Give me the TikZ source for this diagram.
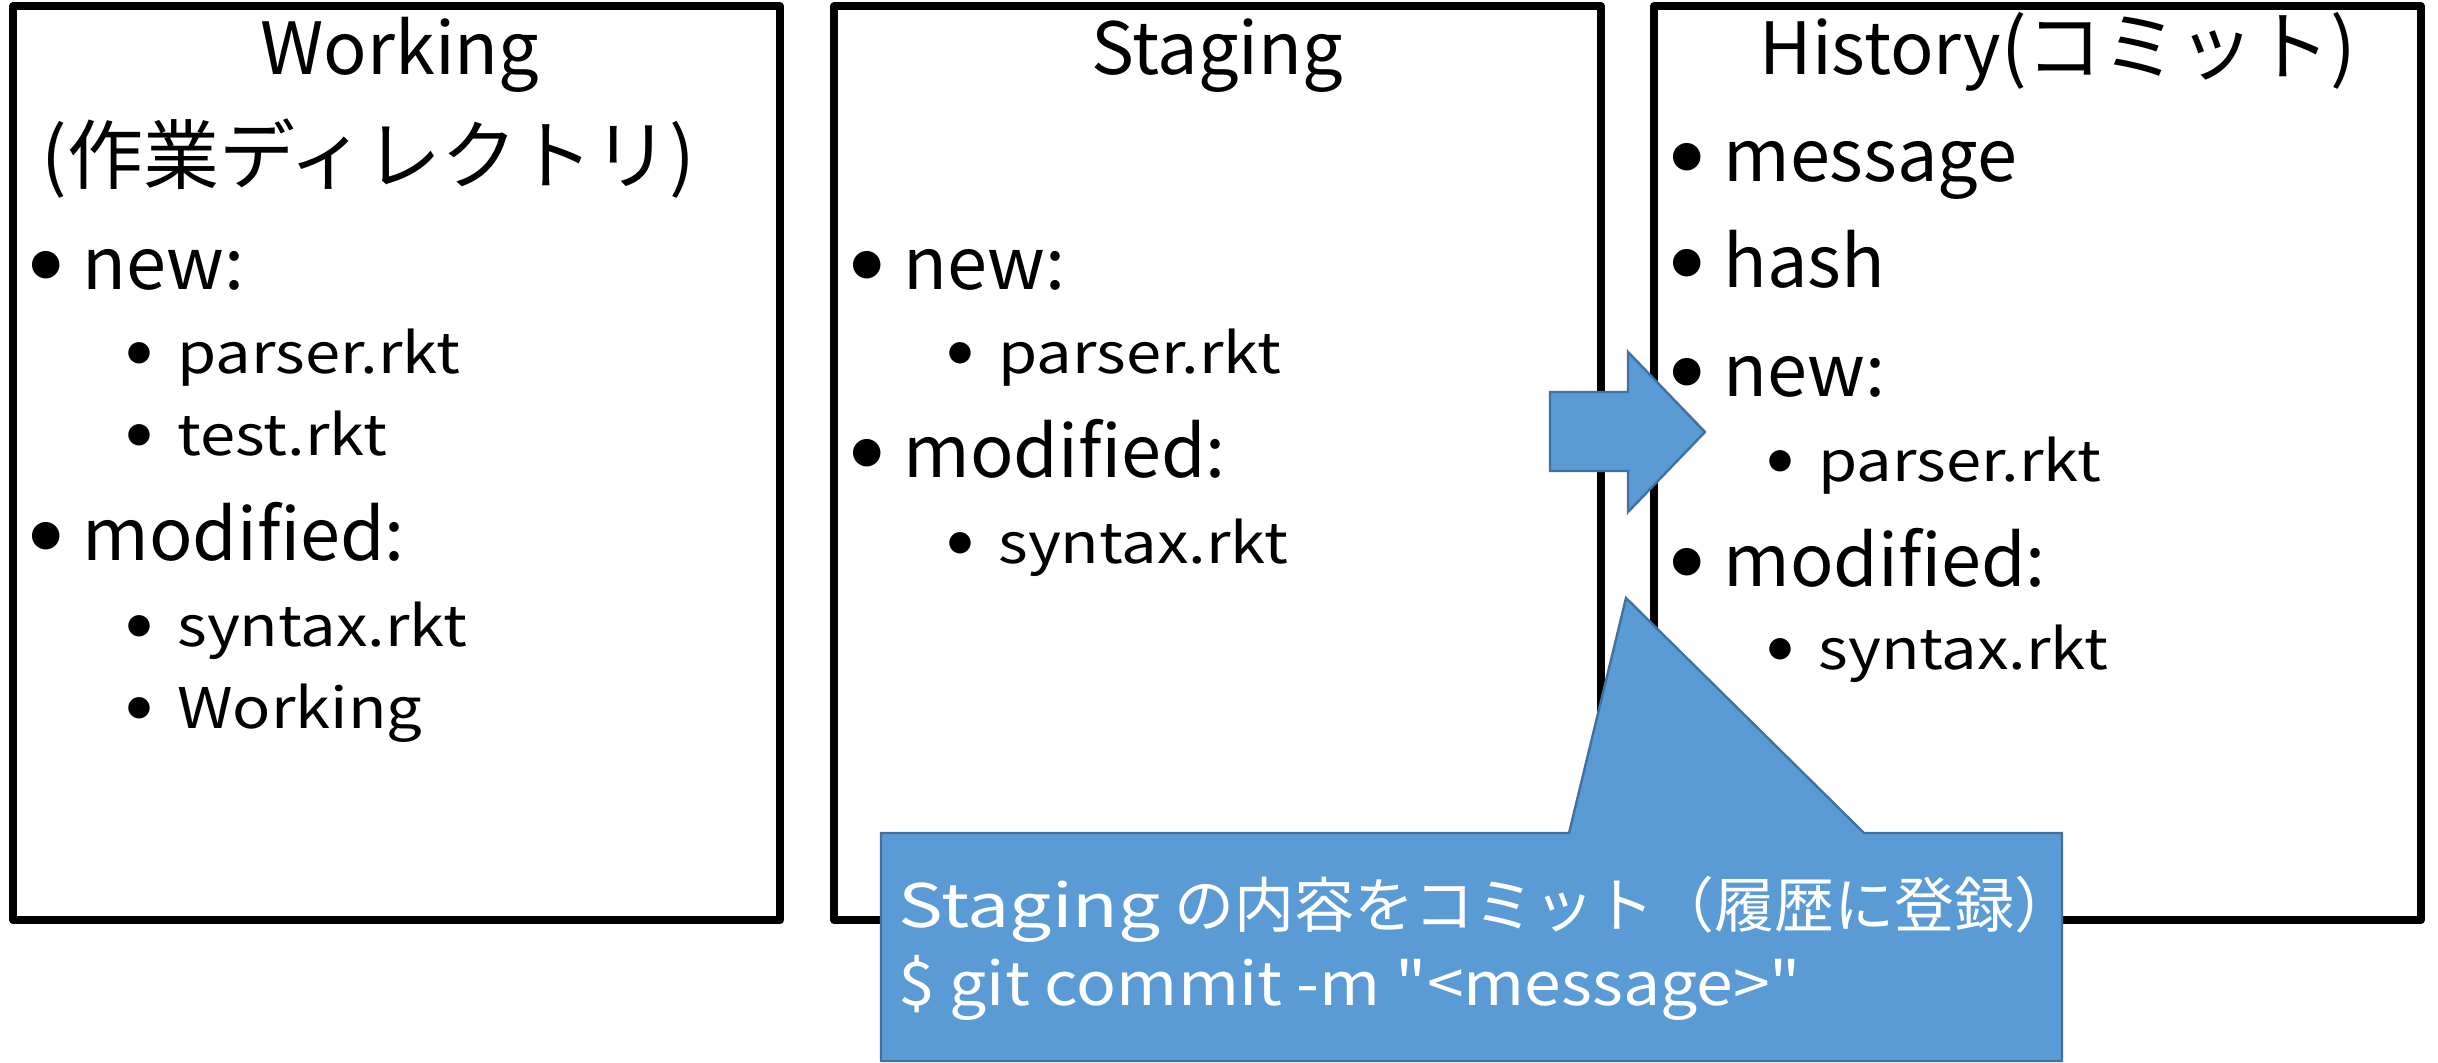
\documentclass[tikz,border=0pt]{standalone}
\usepackage{fontspec}
\setmainfont{Noto Sans CJK JP}
% wider cuts of the same face for the small list entries and the callout
\newfontfamily\subfam{Noto Sans CJK JP}[FakeStretch=1.13]
\newfontfamily\calloutlatin{Noto Sans CJK JP}[FakeStretch=1.1]
\newfontfamily\calloutwide{Noto Sans CJK JP}[FakeStretch=1.25]
% list markers
\newfontfamily\bulletfont{DejaVu Sans}
\newcommand\kanjisize{\fontsize{38}{40}\selectfont}

\definecolor{calloutblue}{RGB}{91,155,213}
\definecolor{calloutedge}{RGB}{65,113,156}

\tikzset{
  panel/.style={draw=black, line width=4pt, line join=round,
    minimum width=383.5pt, minimum height=456.75pt, inner sep=0pt, outer sep=0pt},
  ttl/.style={anchor=base, inner sep=0pt, font=\fontsize{36}{40}\selectfont},
  lone/.style={anchor=base west, inner sep=0pt, font=\fontsize{36}{40}\selectfont},
  ltwo/.style={anchor=base west, inner sep=0pt, font=\subfam\fontsize{28}{30}\selectfont},
  bulone/.style={anchor=center, inner sep=0pt, font=\bulletfont\fontsize{18}{18}\selectfont},
  bultwo/.style={anchor=center, inner sep=0pt, font=\bulletfont\fontsize{14}{14}\selectfont},
  blueshape/.style={fill=calloutblue, draw=calloutedge, line width=1.2pt, line join=miter},
  calltext/.style={anchor=base west, inner sep=0pt, text=white,
    font=\fontsize{30}{32}\selectfont},
}

\begin{document}
\begin{tikzpicture}[x=0.5pt, y=-0.5pt]
\useasboundingbox (0,0) rectangle (2438,1063);

% the three areas
\node[panel] (work)  at (396.5,463.25)  {};
\node[panel] (stage) at (1217.5,463.25) {};
\node[panel] (hist)  at (2037.5,463.25) {};

% Working
\node[ttl]  (workT)  at (400,75) {Working};
\node[lone, font=\kanjisize] (workT2) at (41,184) {(作業ディレクトリ)};
\node[bulone] (wb1) at (46,265) {●};
\node[lone]   (wi1) at (82,290) {new:};
\node[bultwo] (wb2) at (139,353) {●};
\node[ltwo]   (wi2) at (177,374) {parser.rkt};
\node[bultwo] (wb3) at (139,435) {●};
\node[ltwo]   (wi3) at (177,456) {test.rkt};
\node[bulone] (wb4) at (46,536) {●};
\node[lone]   (wi4) at (82,561) {modified:};
\node[bultwo] (wb5) at (139,626) {●};
\node[ltwo]   (wi5) at (177,647) {syntax.rkt};
\node[bultwo] (wb6) at (139,708) {●};
\node[ltwo]   (wi6) at (177,729) {Working};

% Staging
\node[ttl]  (stageT) at (1217,75) {Staging};
\node[bulone] (sb1) at (867,265) {●};
\node[lone]   (si1) at (903,290) {new:};
\node[bultwo] (sb2) at (960,353) {●};
\node[ltwo]   (si2) at (998,374) {parser.rkt};
\node[bulone] (sb3) at (867,453) {●};
\node[lone]   (si3) at (903,478) {modified:};
\node[bultwo] (sb4) at (960,543) {●};
\node[ltwo]   (si4) at (998,564) {syntax.rkt};

% History
\node[ttl, anchor=base east] (histT) at (2357,75)
  {History{\kanjisize(コミット)}};
\node[bulone] (hb1) at (1687,157) {●};
\node[lone]   (hi1) at (1723,182) {message};
\node[bulone] (hb2) at (1687,263) {●};
\node[lone]   (hi2) at (1723,288) {hash};
\node[bulone] (hb3) at (1687,372) {●};
\node[lone]   (hi3) at (1723,397) {new:};
\node[bultwo] (hb4) at (1780,461) {●};
\node[ltwo]   (hi4) at (1818,482) {parser.rkt};
\node[bulone] (hb5) at (1687,562) {●};
\node[lone]   (hi5) at (1723,587) {modified:};
\node[bultwo] (hb6) at (1780,649) {●};
\node[ltwo]   (hi6) at (1818,670) {syntax.rkt};

% block arrow from Staging to History
\draw[blueshape] (1550,392) -- (1628,392) -- (1628,352) -- (1705,432)
  -- (1628,512) -- (1628,471) -- (1550,471) -- cycle;

% callout with its pointer
\draw[blueshape] (881,833) -- (1569,833) -- (1626,598) -- (1864,833)
  -- (2062,833) -- (2062,1061) -- (881,1061) -- cycle;
\node[calltext] (msg1) at (898,928)
  {{\calloutwide Staging} の内容をコミット（履歴に登録）};
\node[calltext] (msg2) at (898,1005)
  {\calloutlatin \$ git commit -m "<message>"};
\end{tikzpicture}
\end{document}
